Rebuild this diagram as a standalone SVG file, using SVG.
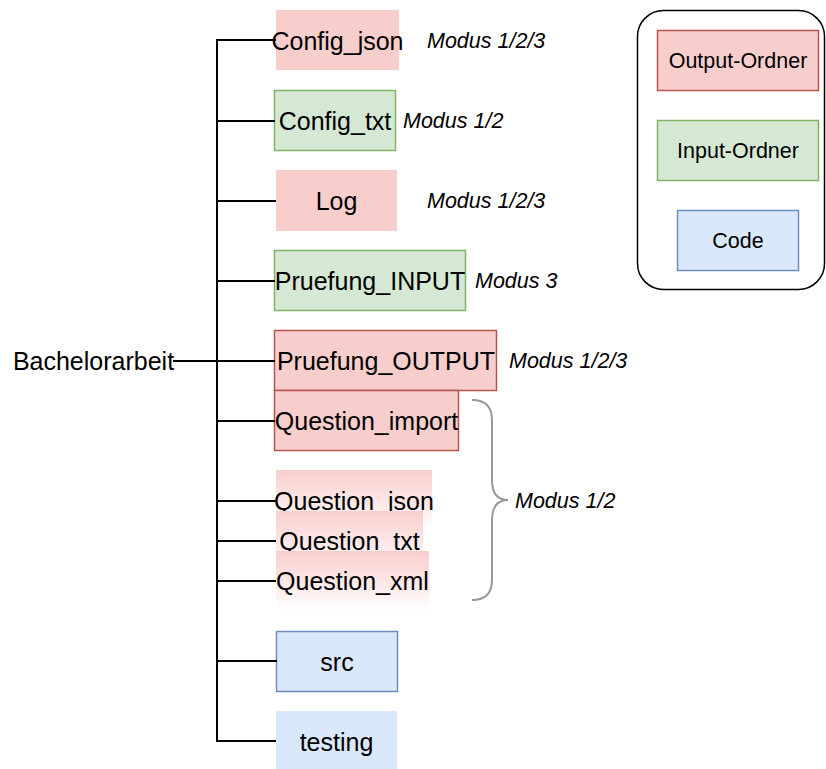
<svg xmlns="http://www.w3.org/2000/svg" width="826" height="769" viewBox="0 0 826 769">
<style>
.t{font-family:"Liberation Sans",Arial,sans-serif;font-size:25px;fill:#000;text-anchor:middle;dominant-baseline:central}
.m{font-family:"Liberation Sans",Arial,sans-serif;font-size:21.5px;font-style:italic;fill:#000;dominant-baseline:central}
.l{font-family:"Liberation Sans",Arial,sans-serif;font-size:21.5px;fill:#000;text-anchor:middle;dominant-baseline:central}
.red{fill:#f8cecc;stroke:#b85450;stroke-width:1.5}
.redn{fill:#f8cecc;stroke:none}
.green{fill:#d5e8d4;stroke:#82b366;stroke-width:1.5}
.blue{fill:#dae8fc;stroke:#6c8ebf;stroke-width:1.5}
.bluen{fill:#dae8fc;stroke:none}
.grad{fill:url(#g);stroke:none}
.c{stroke:#000;stroke-width:2;fill:none}
</style>
<defs>
<linearGradient id="g" x1="0" y1="0" x2="0" y2="1">
<stop offset="0" stop-color="#f8cecc"/>
<stop offset="1" stop-color="#ffffff"/>
</linearGradient>
</defs>
<rect width="826" height="769" fill="#fff"/>
<g id="nodes">
<g id="config_json"><rect class="redn" x="276" y="10" width="123" height="60"/><text class="t" x="337.5" y="40.5">Config_json</text></g>
<g id="config_txt"><rect class="green" x="274.5" y="90.5" width="121" height="60"/><text class="t" x="335" y="121">Config_txt</text></g>
<g id="log"><rect class="redn" x="276" y="170" width="121" height="61"/><text class="t" x="336.5" y="201">Log</text></g>
<g id="pruefung_input"><rect class="green" x="274.5" y="250.5" width="191" height="60"/><text class="t" x="370" y="281">Pruefung_INPUT</text></g>
<g id="pruefung_output"><rect class="red" x="274.5" y="330.5" width="222" height="60"/><text class="t" x="386" y="361">Pruefung_OUTPUT</text></g>
<g id="question_import"><rect class="red" x="274.5" y="390.5" width="184" height="60"/><text class="t" x="366.5" y="421">Question_import</text></g>
<g id="question_json"><rect class="grad" x="276" y="470" width="156" height="60"/><text class="t" x="354" y="500.5">Question_json</text></g>
<g id="question_txt"><rect class="grad" x="276" y="511" width="147" height="60"/><text class="t" x="349.5" y="540.5">Question_txt</text></g>
<g id="question_xml"><rect class="grad" x="276" y="551" width="153" height="60"/><text class="t" x="352.5" y="580.5">Question_xml</text></g>
<g id="src"><rect class="blue" x="276.5" y="631.5" width="121" height="60"/><text class="t" x="337" y="661.5">src</text></g>
<g id="testing"><rect class="bluen" x="276" y="711" width="121" height="60"/><text class="t" x="336.5" y="741.5">testing</text></g>
<g id="bachelorarbeit"><text class="t" x="93.5" y="361">Bachelorarbeit</text></g>
</g>
<g id="connectors">
<path class="c" d="M217 40V741"/>
<path class="c" d="M216 40H276M216 121H275M216 201H276M216 281H275M173 361H275M216 421H275M216 501H276M216 541H276M216 581H276M216 661H277M216 741H276"/>
<path d="M472 400Q492 400 492 420V480Q492 500 508 500Q492 500 492 520V580Q492 600 472 600" fill="none" stroke="#999" stroke-width="2"/>
</g>
<g id="labels">
<text class="m" x="427" y="41">Modus 1/2/3</text>
<text class="m" x="403" y="121">Modus 1/2</text>
<text class="m" x="427" y="201">Modus 1/2/3</text>
<text class="m" x="475" y="281">Modus 3</text>
<text class="m" x="509" y="361">Modus 1/2/3</text>
<text class="m" x="515" y="501">Modus 1/2</text>
</g>
<g id="legend">
<rect x="637.5" y="10.5" width="187" height="279" rx="26" fill="#fff" stroke="#000" stroke-width="1.5"/>
<g id="legend_output"><rect class="red" x="657.5" y="30.5" width="161" height="60"/><text class="l" x="738" y="61">Output-Ordner</text></g>
<g id="legend_input"><rect class="green" x="657.5" y="120.5" width="161" height="60"/><text class="l" x="738" y="151">Input-Ordner</text></g>
<g id="legend_code"><rect class="blue" x="677.5" y="210.5" width="121" height="60"/><text class="l" x="738" y="241">Code</text></g>
</g>
</svg>
